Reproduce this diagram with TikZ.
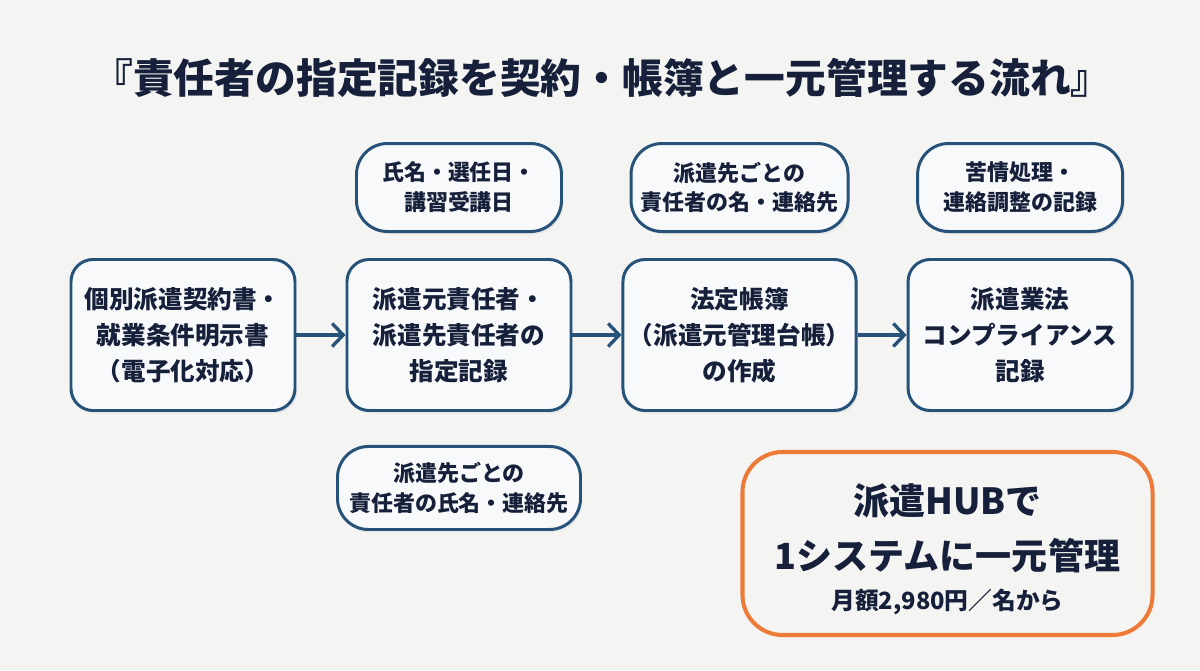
\documentclass[tikz,border=0pt]{standalone}
\usepackage{fontspec}
\setmainfont{Noto Sans CJK JP}
\usepackage{xcolor}
\usepackage{tikz}
\usetikzlibrary{arrows.meta, positioning, shadows}
\definecolor{navy}{RGB}{22, 32, 58}
\definecolor{frame}{RGB}{38, 82, 122}
\definecolor{paper}{RGB}{244, 244, 242}
\definecolor{boxbg}{RGB}{248, 249, 250}
\definecolor{hub}{RGB}{236, 122, 56}

\begin{document}
\begin{tikzpicture}[
    stepbox/.style={rectangle, rounded corners=0.44cm, draw=frame, fill=boxbg, line width=1.7pt, minimum width=4.48cm, minimum height=3.02cm, align=center, text=navy, font=\bfseries\fontsize{14}{20.5}\selectfont, drop shadow={opacity=0.10, shadow xshift=0.04cm, shadow yshift=-0.06cm}},
    note/.style={rectangle, rounded corners=0.62cm, draw=frame, fill=boxbg, line width=1.7pt, minimum height=1.76cm, align=center, text=navy, font=\bfseries\fontsize{12.5}{17}\selectfont, drop shadow={opacity=0.10, shadow xshift=0.04cm, shadow yshift=-0.06cm}},
    arrow/.style={-{Straight Barb[length=2.2mm, width=4.6mm, line width=1.9pt]}, line width=1.9pt, color=frame},
    promo/.style={rectangle, rounded corners=0.8cm, draw=hub, fill=paper, line width=2.3pt, minimum width=8.2cm, minimum height=3.66cm, align=center, text=navy, font=\bfseries\fontsize{20.5}{31}\selectfont}
]
    \fill[paper] (0,0) rectangle (24,-13.4);
    \useasboundingbox (0,0) rectangle (24,-13.4);

    % Title
    \node[text=navy, font=\bfseries\fontsize{23.2}{28}\selectfont] (title) at (12.04,-1.56) {『責任者の指定記録を契約・帳簿と一元管理する流れ』};

    % Flow
    \node[stepbox] (contract) at (3.66,-6.7) {個別派遣契約書・\\就業条件明示書\\（電子化対応）};
    \node[stepbox, right=0.98cm of contract] (assign) {派遣元責任者・\\派遣先責任者の\\指定記録};
    \node[stepbox, right=0.98cm of assign] (ledger) {法定帳簿\\（派遣元管理台帳）\\の作成};
    \node[stepbox, right=0.98cm of ledger] (comply) {派遣業法\\コンプライアンス\\記録};

    % Notes
    \node[note, minimum width=4.1cm, above=0.5cm of assign] (dates) {氏名・選任日・\\講習受講日};
    \node[note, minimum width=4.34cm, above=0.5cm of ledger] (contact) {派遣先ごとの\\責任者の名・連絡先};
    \node[note, minimum width=4.1cm, above=0.5cm of comply] (claims) {苦情処理・\\連絡調整の記録};
    \node[note, minimum width=4.86cm, minimum height=1.66cm, below=0.66cm of assign] (names) {派遣先ごとの\\責任者の氏名・連絡先};

    % HUB
    \node[promo] (hub) at (18.95,-10.87) {\rule{0pt}{0.86cm}派遣HUBで\\1システムに一元管理\\[-2.8mm]\fontsize{13.5}{18}\selectfont 月額2,980円／名から};

    % Arrows
    \draw[arrow] (contract) -- (assign);
    \draw[arrow] (assign) -- (ledger);
    \draw[arrow] (ledger) -- (comply);
\end{tikzpicture}
\end{document}
